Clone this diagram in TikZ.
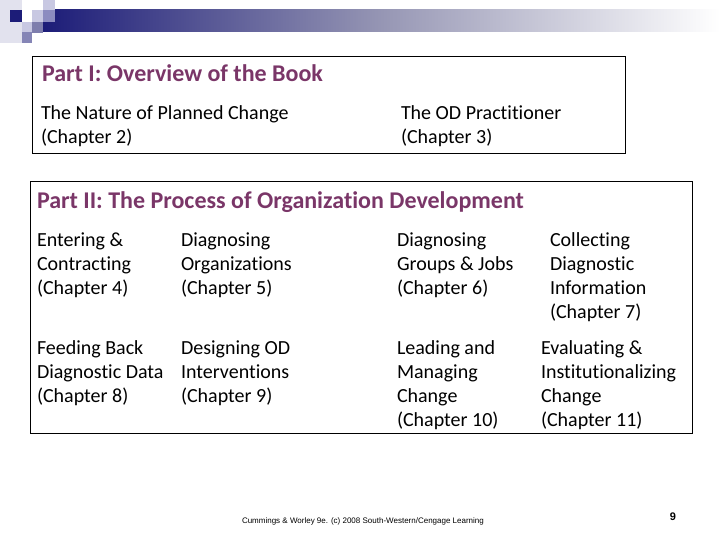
\documentclass[tikz,border=0pt]{standalone}
\usepackage{fontspec}
\setmainfont{Carlito}[Ligatures=NoCommon]
\newfontfamily\footfont{Liberation Sans}
\definecolor{navy}{RGB}{28,28,120}
\definecolor{midblue}{RGB}{140,140,192}
\definecolor{lightlav}{RGB}{200,200,226}
\definecolor{palelav}{RGB}{226,226,238}
\definecolor{barmid}{RGB}{150,150,180}
\definecolor{titlecol}{RGB}{122,54,104}
\newcommand\lnstrut{\rule{0pt}{16pt}}
\begin{document}
\begin{tikzpicture}[x=1pt,y=-1pt,
  every node/.style={inner sep=0pt, outer sep=0pt},
  frame/.style={draw=black, line width=0.9pt, anchor=north west},
  body/.style={anchor=north west, align=left, font=\fontsize{20}{24}\selectfont},
  parttitle/.style={anchor=base west, font=\bfseries\fontsize{24}{28}\selectfont, text=titlecol}]
\useasboundingbox (0,0) rectangle (720,540);
% header decoration
\shade[left color=navy, right color=white, middle color=barmid] (43,10) rectangle (720,32);
\fill[palelav] (0,0) rectangle (22,43);
\fill[navy] (10,10) rectangle (22,22);
\fill[lightlav] (32,10) rectangle (43,22);
\fill[lightlav] (43,0) rectangle (55,10);
\fill[midblue] (43,10) rectangle (55,22);
\fill[lightlav] (22,22) rectangle (32,32);
\fill[midblue!90!black] (32,22) rectangle (43,33);
\fill[midblue!95!black] (22,32) rectangle (32,43);
% boxes
\node[frame, minimum width=593pt, minimum height=97pt] (box1) at (32,56) {};
\node[frame, minimum width=662pt, minimum height=252pt] (box2) at (30,181) {};
% part I
\node[parttitle] (t1) at (42,82) {Part I: Overview of the Book};
\node[body] (c2) at (41,104) {\lnstrut The Nature of Planned Change\\(Chapter 2)};
\node[body] (c3) at (401,104) {\lnstrut The OD Practitioner\\(Chapter 3)};
% part II
\node[parttitle] (t2) at (37,208) {Part II: The Process of Organization Development};
\node[body] (c4) at (37,230) {\lnstrut Entering \&\\Contracting\\(Chapter 4)};
\node[body] (c5) at (181,230) {\lnstrut Diagnosing\\Organizations\\(Chapter 5)};
\node[body] (c6) at (397,230) {\lnstrut Diagnosing\\Groups \& Jobs\\(Chapter 6)};
\node[body] (c7) at (550,230) {\lnstrut Collecting\\Diagnostic\\Information\\(Chapter 7)};
\node[body] (c8) at (37,338) {\lnstrut Feeding Back\\Diagnostic Data\\(Chapter 8)};
\node[body] (c9) at (181,338) {\lnstrut Designing OD\\Interventions\\(Chapter 9)};
\node[body] (c10) at (397,338) {\lnstrut Leading and\\Managing\\Change\\(Chapter 10)};
\node[body] (c11) at (541,338) {\lnstrut Evaluating \&\\Institutionalizing\\Change\\(Chapter 11)};
% footer
\node[anchor=base west, font=\footfont\fontsize{8}{10}\selectfont] (foot) at (242,523) {Cummings \& Worley 9e. (c) 2008 South-Western/Cengage Learning};
\node[anchor=base, font=\footfont\bfseries\fontsize{11}{13}\selectfont] (pg) at (673,520) {9};
\end{tikzpicture}
\end{document}
